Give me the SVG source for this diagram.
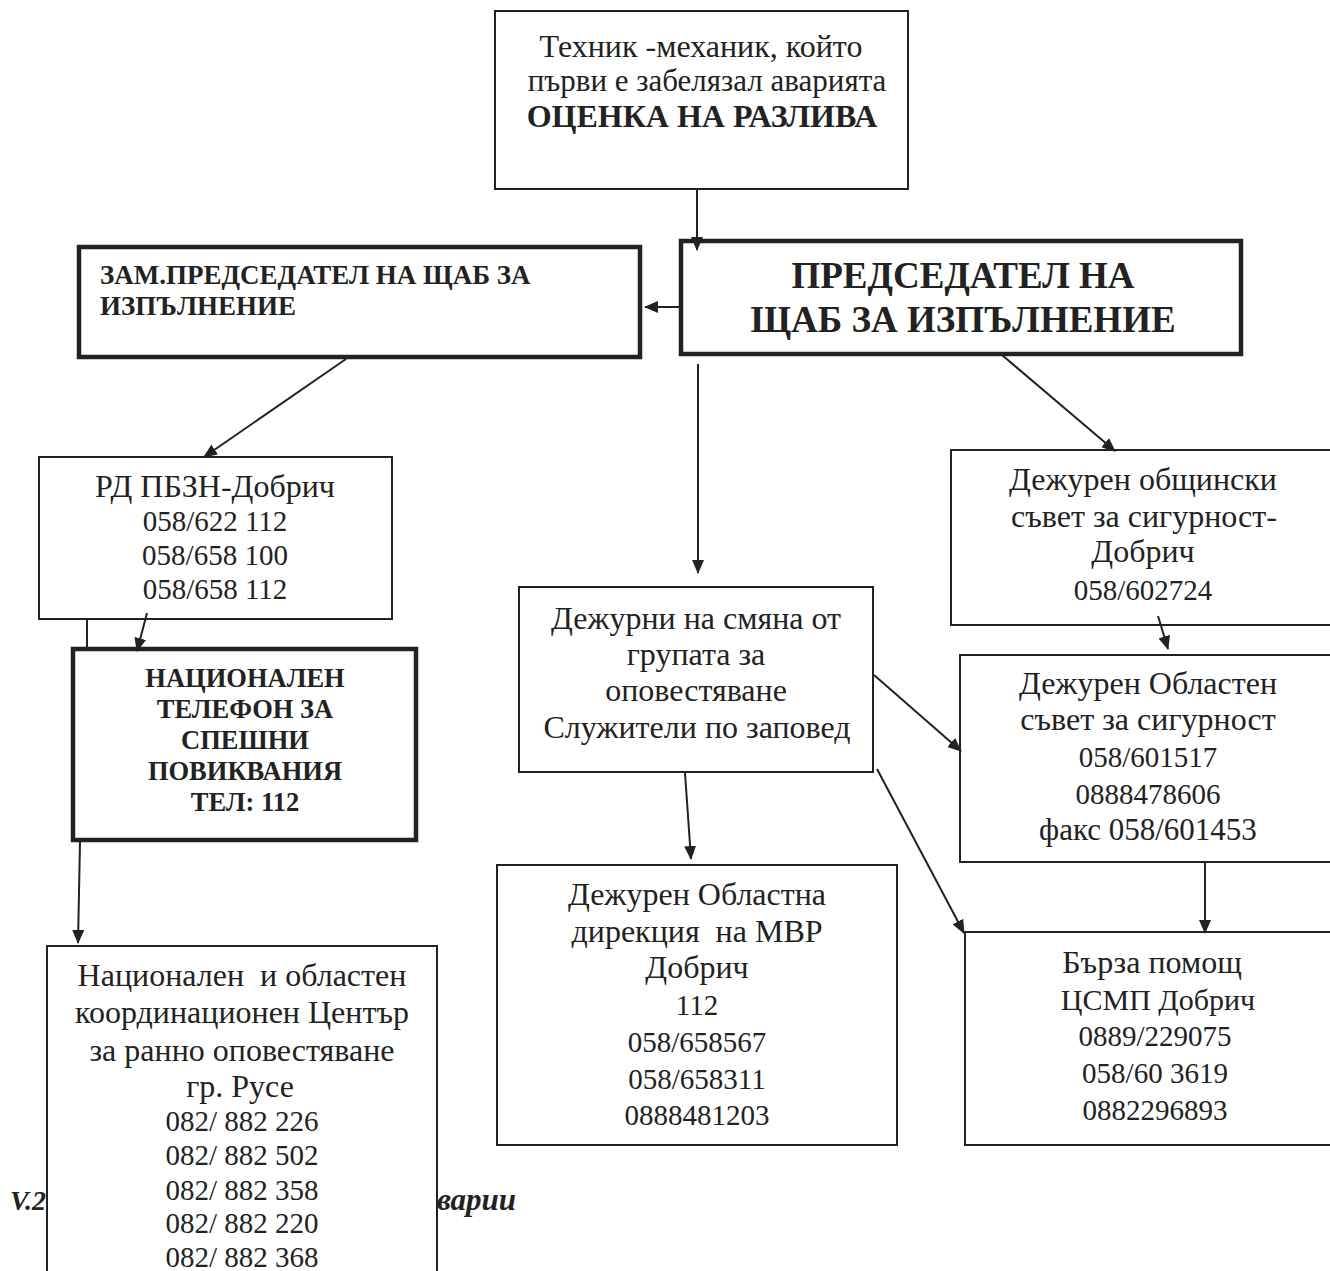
<svg xmlns="http://www.w3.org/2000/svg" width="1330" height="1271" viewBox="0 0 1330 1271">
<style>
  .box{fill:#fff;stroke:#222;stroke-width:2}
  .thick{fill:#fff;stroke:#222;stroke-width:4.5}
  .t{font-family:"Liberation Serif","DejaVu Serif",serif;font-size:29px;fill:#222;text-anchor:middle}
  .c{font-size:32px}
  .b{font-family:"Liberation Serif","DejaVu Serif",serif;font-weight:bold;fill:#222}
  .conn{stroke:#222;stroke-width:2;fill:none}
</style>
<defs>
  <marker id="ah" markerUnits="userSpaceOnUse" markerWidth="14" markerHeight="12" refX="13" refY="6" orient="auto">
    <path d="M0,0 L14,6 L0,12 z" fill="#222"/>
  </marker>
</defs>
<rect width="1330" height="1271" fill="#fff"/>

<g id="page-heading">
  <text class="b" x="46" y="1210" font-size="28" font-style="italic" text-anchor="end">V.2</text>
  <text class="b" x="516" y="1210" font-size="31" font-style="italic" text-anchor="end">варии</text>
</g>

<g id="n-technik">
  <rect class="box" x="495" y="11" width="413" height="178"/>
  <text class="t c" x="701" y="57">Техник -механик, който</text>
  <text class="t" x="707" y="91" style="font-size:31px">първи е забелязал аварията</text>
  <text class="b" x="702" y="127" font-size="32" text-anchor="middle">ОЦЕНКА НА РАЗЛИВА</text>
</g>

<g id="n-chairman">
  <rect class="thick" x="681" y="241" width="560" height="113"/>
  <text class="b" x="963" y="288" font-size="37" text-anchor="middle">ПРЕДСЕДАТЕЛ НА</text>
  <text class="b" x="963" y="332" font-size="37" text-anchor="middle">ЩАБ ЗА ИЗПЪЛНЕНИЕ</text>
</g>

<g id="n-zam">
  <rect class="thick" x="79" y="247" width="561" height="110"/>
  <text class="b" x="100" y="284" font-size="27">ЗАМ.ПРЕДСЕДАТЕЛ НА ЩАБ ЗА</text>
  <text class="b" x="100" y="315" font-size="27">ИЗПЪЛНЕНИЕ</text>
</g>

<g id="n-rd">
  <rect class="box" x="39" y="457" width="353" height="162"/>
  <text class="t c" x="215" y="497">РД ПБЗН-Добрич</text>
  <text class="t" x="215" y="531">058/622 112</text>
  <text class="t" x="215" y="565">058/658 100</text>
  <text class="t" x="215" y="599">058/658 112</text>
</g>

<g id="n-national">
  <rect class="thick" x="73" y="649" width="343" height="191"/>
  <text class="b" x="245" y="687" font-size="26.5" text-anchor="middle">НАЦИОНАЛЕН</text>
  <text class="b" x="245" y="718" font-size="26.5" text-anchor="middle">ТЕЛЕФОН ЗА</text>
  <text class="b" x="245" y="749" font-size="26.5" text-anchor="middle">СПЕШНИ</text>
  <text class="b" x="245" y="780" font-size="26.5" text-anchor="middle">ПОВИКВАНИЯ</text>
  <text class="b" x="245" y="811" font-size="26.5" text-anchor="middle">ТЕЛ: 112</text>
</g>

<g id="n-ruse">
  <rect class="box" x="47" y="946" width="390" height="340"/>
  <text class="t c" x="242" y="986" xml:space="preserve">Национален  и областен</text>
  <text class="t c" x="242" y="1023">координационен Център</text>
  <text class="t c" x="242" y="1061">за ранно оповестяване</text>
  <text class="t c" x="240" y="1097">гр. Русе</text>
  <text class="t" x="242" y="1131">082/ 882 226</text>
  <text class="t" x="242" y="1165">082/ 882 502</text>
  <text class="t" x="242" y="1200">082/ 882 358</text>
  <text class="t" x="242" y="1233">082/ 882 220</text>
  <text class="t" x="242" y="1267">082/ 882 368</text>
</g>

<g id="n-dezhurni">
  <rect class="box" x="519" y="587" width="354" height="185"/>
  <text class="t c" x="696" y="629">Дежурни на смяна от</text>
  <text class="t c" x="696" y="665">групата за</text>
  <text class="t c" x="696" y="701">оповестяване</text>
  <text class="t c" x="697" y="738">Служители по заповед</text>
</g>

<g id="n-mvr">
  <rect class="box" x="497" y="865" width="400" height="280"/>
  <text class="t c" x="697" y="905">Дежурен Областна</text>
  <text class="t c" x="697" y="942" xml:space="preserve">дирекция  на МВР</text>
  <text class="t c" x="697" y="978">Добрич</text>
  <text class="t" x="697" y="1015">112</text>
  <text class="t" x="697" y="1052">058/658567</text>
  <text class="t" x="697" y="1089">058/658311</text>
  <text class="t" x="697" y="1125">0888481203</text>
</g>

<g id="n-obshtinski">
  <rect class="box" x="951" y="450" width="390" height="175"/>
  <text class="t c" x="1143" y="490">Дежурен общински</text>
  <text class="t c" x="1144" y="527">съвет за сигурност-</text>
  <text class="t c" x="1143" y="562">Добрич</text>
  <text class="t" x="1143" y="600">058/602724</text>
</g>

<g id="n-oblasten">
  <rect class="box" x="960" y="655" width="380" height="207"/>
  <text class="t c" x="1148" y="694">Дежурен Областен</text>
  <text class="t c" x="1148" y="730">съвет за сигурност</text>
  <text class="t" x="1148" y="767">058/601517</text>
  <text class="t" x="1148" y="804">0888478606</text>
  <text class="t" x="1148" y="840" style="font-size:31px">факс 058/601453</text>
</g>

<g id="n-barza">
  <rect class="box" x="965" y="932" width="375" height="213"/>
  <text class="t c" x="1152" y="973">Бърза помощ</text>
  <text class="t" x="1158" y="1010" style="font-size:30px">ЦСМП Добрич</text>
  <text class="t" x="1155" y="1046">0889/229075</text>
  <text class="t" x="1155" y="1083">058/60 3619</text>
  <text class="t" x="1155" y="1120">0882296893</text>
</g>

<g id="connectors" class="conn">
  <line x1="697" y1="189" x2="697" y2="250" marker-end="url(#ah)"/>
  <line x1="681" y1="307" x2="645" y2="307" marker-end="url(#ah)"/>
  <line x1="346" y1="359" x2="204" y2="457" marker-end="url(#ah)"/>
  <line x1="147" y1="613" x2="137" y2="651" marker-end="url(#ah)"/>
  <line x1="87" y1="619" x2="87" y2="649"/>
  <line x1="80" y1="842" x2="78" y2="943" marker-end="url(#ah)"/>
  <line x1="698" y1="364" x2="698" y2="573" marker-end="url(#ah)"/>
  <line x1="1002" y1="355" x2="1115" y2="451" marker-end="url(#ah)"/>
  <line x1="1158" y1="616" x2="1168" y2="649" marker-end="url(#ah)"/>
  <line x1="874" y1="675" x2="961" y2="751" marker-end="url(#ah)"/>
  <line x1="877" y1="769" x2="964" y2="933" marker-end="url(#ah)"/>
  <line x1="685" y1="773" x2="691" y2="859" marker-end="url(#ah)"/>
  <line x1="1205" y1="862" x2="1205" y2="933" marker-end="url(#ah)"/>
</g>
</svg>
